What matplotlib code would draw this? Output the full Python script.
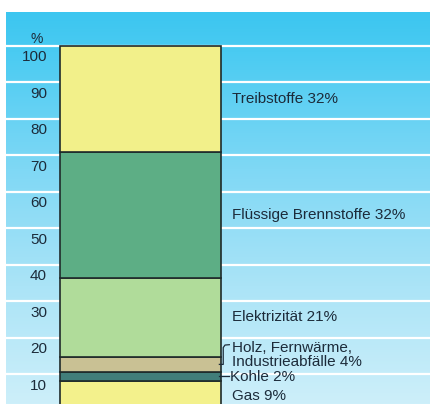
import numpy as np
import matplotlib.pyplot as plt
from matplotlib.colors import LinearSegmentedColormap

# energy use by carrier (bottom to top), heights as drawn in the picture
names = ['Gas', 'Kohle', 'Holz', 'Elektrizität', 'Flüssige Brennstoffe', 'Treibstoffe']
heights = [8.2, 2.5, 4.1, 21.6, 34.6, 29.0]
shares = [9, 2, 4, 21, 32, 32]
colors = ['#f3f18c', '#417e7a', '#c9c194', '#b0dc9a', '#5dae85', '#f2f08a']
ticks = [10, 20, 30, 40, 50, 60, 70, 80, 90, 100]

txt = '#1c2b3a'
plt.rcParams['font.family'] = ['Liberation Sans', 'DejaVu Sans']

fig = plt.figure(figsize=(4.30, 4.04), dpi=100)
ax = fig.add_axes([6 / 430, 0, 424 / 430, 392 / 404])
ax.set_xlim(-0.835, 1.798)
ax.set_ylim(1.9, 109.3)
ax.axis('off')

# blue background, fading to light towards the bottom
bg = LinearSegmentedColormap.from_list('bg', [(0, '#cdeffa'), (0.3, '#abe4f7'),
                                              (0.6, '#7fd8f5'), (0.9, '#4acbf2'),
                                              (1, '#3cc6f0')])
grad = np.linspace(0, 1, 256).reshape(-1, 1)
ax.imshow(grad, cmap=bg, aspect='auto', origin='lower',
          extent=[-0.835, 1.798, 1.9, 109.3], zorder=0)

for t in ticks:
    ax.axhline(t, color='white', lw=1.6, zorder=1)
    ax.text(-0.58, t - 3.1, str(t), ha='right', va='center', fontsize=11, color=txt)
ax.text(-0.646, 101.9, '%', ha='center', va='center', fontsize=10, color=txt)

bottoms = np.concatenate([[0], np.cumsum(heights)[:-1]])
ax.bar(0, heights, bottom=bottoms, width=1, color=colors,
       edgecolor='#1f2a2a', linewidth=1.2, zorder=2)

mids = bottoms + np.array(heights) / 2
lx = 0.568
for i, (n, s) in enumerate(zip(names, shares)):
    if n == 'Holz':
        ax.text(lx, mids[i] + 4.6, 'Holz, Fernwärme,', va='center', fontsize=11, color=txt)
        ax.text(lx, mids[i] + 0.6, 'Industrieabfälle %d%%' % s, va='center', fontsize=11, color=txt)
        ax.plot([0.49, 0.514, 0.514, 0.525, 0.552],
                [mids[i], mids[i], mids[i] + 4.6, mids[i] + 5.3, mids[i] + 5.4],
                color=txt, lw=0.9, zorder=3)
    elif n == 'Kohle':
        ax.text(lx - 0.012, mids[i] - 0.2, '%s %d%%' % (n, s), va='center', fontsize=11, color=txt)
        ax.plot([0.49, 0.55], [mids[i], mids[i]], color=txt, lw=0.9, zorder=3)
    else:
        ax.text(lx, mids[i], '%s %d%%' % (n, s), va='center', fontsize=11, color=txt)

fig.savefig('out.png', dpi=100)
